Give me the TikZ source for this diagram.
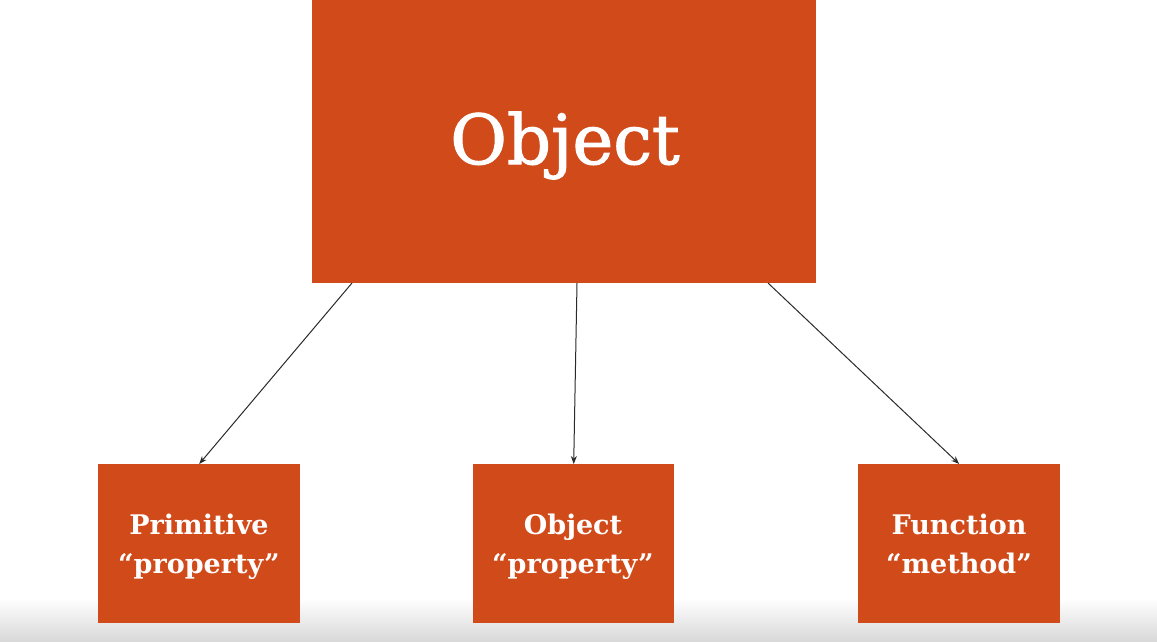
\documentclass[tikz,border=0pt]{standalone}
\usepackage{fontspec}
\setmainfont{DejaVu Serif}
\newfontfamily\medserif[BoldFont={DejaVu Serif},BoldFeatures={FakeBold=1.6}]{DejaVu Serif}
\usetikzlibrary{arrows.meta}
\definecolor{boxred}{HTML}{D14A19}
\definecolor{linegray}{HTML}{2A2A2A}
\begin{document}
\begin{tikzpicture}[x=1pt,y=-1pt,
  boxstyle/.style={fill=boxred,draw=none,anchor=north west,inner sep=0pt},
  smalltext/.style={text=white,anchor=base,inner sep=0pt,font=\bfseries\fontsize{27}{32}\selectfont},
  conn/.style={draw=linegray,line width=1pt,-{Stealth[length=8pt,width=6pt]}}]
\useasboundingbox (0,0) rectangle (1157,641);
\fill[white] (0,0) rectangle (1157,641);
\shade[top color=white,bottom color=black!15] (0,598) rectangle (1157,641);
\node[boxstyle,minimum width=504pt,minimum height=283pt] (obj) at (312,0) {};
\node[text=white,anchor=base,inner sep=0pt,font=\medserif\bfseries\fontsize{69}{76}\selectfont] (objt) at (565,164) {Object};
\node[boxstyle,minimum width=202pt,minimum height=159pt] (prim) at (98,464) {};
\node[boxstyle,minimum width=201pt,minimum height=159pt] (objp) at (473,464) {};
\node[boxstyle,minimum width=202pt,minimum height=159pt] (func) at (858,464) {};
\node[smalltext] (prim1) at (199,534) {Primitive};
\node[smalltext] (prim2) at (199,573) {“property”};
\node[smalltext] (objp1) at (573,534) {Object};
\node[smalltext] (objp2) at (573,573) {“property”};
\node[smalltext] (func1) at (959,534) {Function};
\node[smalltext] (func2) at (959,573) {“method”};
\coordinate (a1) at (352,283);
\coordinate (a2) at (577,283);
\coordinate (a3) at (768,283);
\draw[conn] (a1) -- (prim.north);
\draw[conn] (a2) -- (objp.north);
\draw[conn] (a3) -- (func.north);
\end{tikzpicture}
\end{document}
